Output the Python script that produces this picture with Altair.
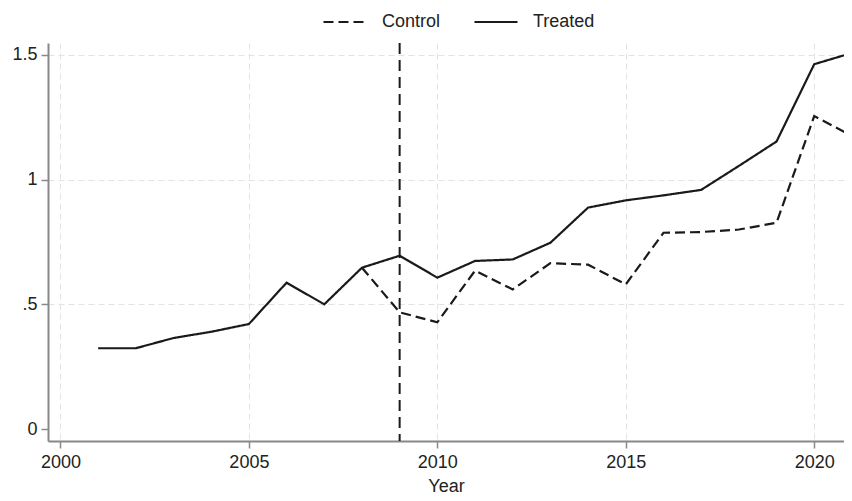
import altair as alt
import pandas as pd

years = list(range(2001, 2022))
treated = [0.324, 0.324, 0.365, 0.39, 0.421, 0.587, 0.50, 0.647, 0.695, 0.607,
           0.674, 0.68, 0.747, 0.888, 0.917, 0.937, 0.959, 1.055, 1.153, 1.463, 1.508]
control_years = list(range(2008, 2022))
control = [0.647, 0.468, 0.428, 0.635, 0.56, 0.665, 0.659, 0.58, 0.787, 0.79,
           0.80, 0.827, 1.255, 1.175]
vline_years = [2009]

df = pd.concat([
    pd.DataFrame({"Year": years, "value": treated, "group": "Treated"}),
    pd.DataFrame({"Year": control_years, "value": control, "group": "Control"}),
])
vdf = pd.DataFrame({"Year": vline_years})

FONT = "Liberation Sans"

xscale = alt.Scale(domain=[1999.67, 2020.79], nice=False, zero=False)
yscale = alt.Scale(domain=[-0.048, 1.548], nice=False, zero=False)

lines = alt.Chart(df).mark_line(color="#1a1a1a", strokeWidth=2.2, clip=True).encode(
    x=alt.X("Year:Q", scale=xscale,
            axis=alt.Axis(values=[2000, 2005, 2010, 2015, 2020], format="d",
                          title="Year", grid=True)),
    y=alt.Y("value:Q", scale=yscale,
            axis=alt.Axis(values=[0, 0.5, 1, 1.5], title=None, grid=True,
                          labelExpr="datum.value > 0 && datum.value < 1 ? substring(format(datum.value, ''), 1) : format(datum.value, '')",
                          gridOpacity={"condition": {"test": "datum.value === 0", "value": 0}, "value": 1})),
    strokeDash=alt.StrokeDash("group:N",
                              scale=alt.Scale(domain=["Control", "Treated"], range=[[10, 5], [1, 0]]),
                              legend=alt.Legend(title=None, orient="none", direction="horizontal",
                                                legendX=274, legendY=-44, symbolType="stroke",
                                                symbolSize=1850, symbolStrokeWidth=2,
                                                symbolStrokeColor="#1a1a1a",
                                                labelFontSize=18, labelFont=FONT, labelColor="#222",
                                                labelOffset=14, columnPadding=29, padding=0)),
    detail="group:N",
)

vline = alt.Chart(vdf).mark_rule(color="#1a1a1a", strokeWidth=2, strokeDash=[11, 6]).encode(
    x=alt.X("Year:Q", scale=xscale),
)

chart = alt.layer(vline, lines).properties(
    width=796, height=398,
    autosize=alt.AutoSizeParams(type="none"),
    padding={"left": 40, "top": 35, "right": 0, "bottom": 58},
).configure_view(stroke=None).configure_axis(
    domainColor="#888888", domainWidth=2, tickColor="#888888", tickSize=7, tickWidth=1.5,
    labelFont=FONT, labelFontSize=18, labelColor="#222222", labelPadding=5,
    titleFont=FONT, titleFontSize=18, titleColor="#222222", titleFontWeight="normal", titlePadding=6,
    gridColor="#e3e3e3", gridDash=[6, 4], gridWidth=1,
).configure_axisY(labelPadding=4)

chart.save("out.html", embed_options={"renderer": "svg", "actions": False})
